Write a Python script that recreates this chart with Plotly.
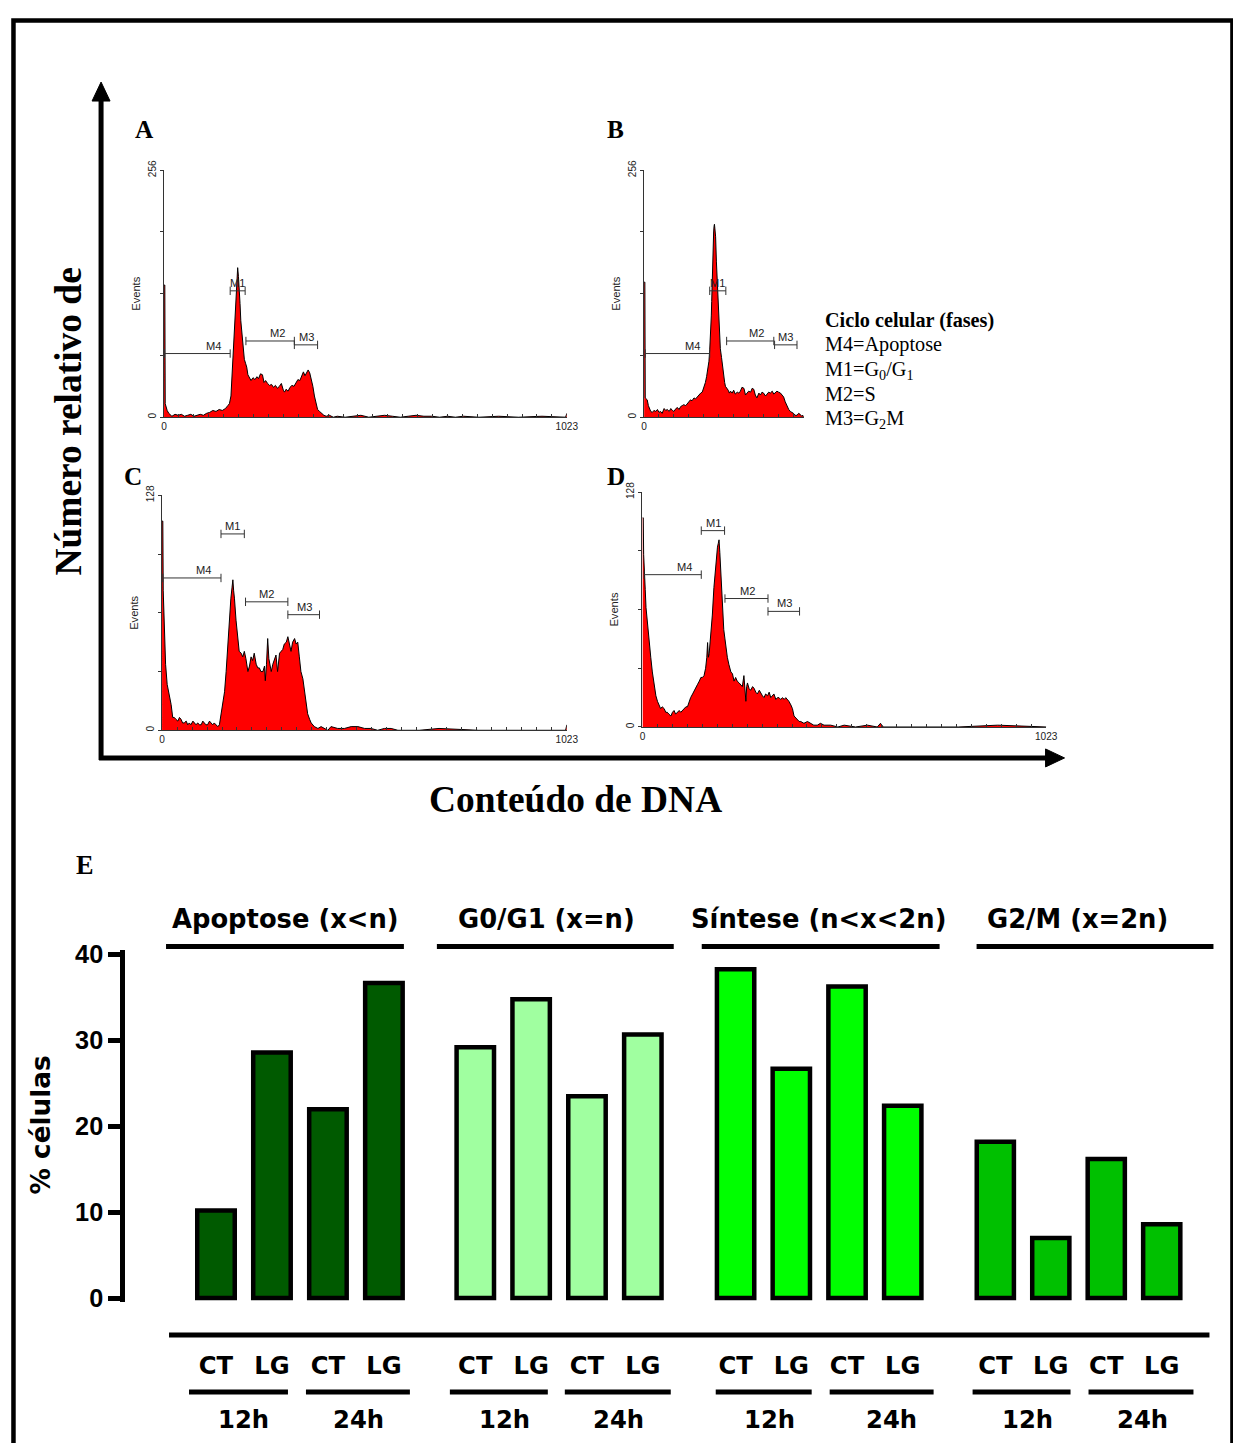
import plotly.graph_objects as go

# The photographed page is slightly scaled/offset; positions below are given in reference pixels
# and converted to figure paper coordinates.
S = 0.9885          # page -> picture scale
PX, PY = 10, 16     # page offset of the figure
W, H = 1246, 1444


def fx(p):
    return (p / S - PX) / W


def fy(p):
    return 1 - (p / S - PY) / H


def fs(size):
    return size / S


# ---------------- DATA: DNA content histograms (channel, events) ----------------
A_ch = [0, 2, 3, 5, 8, 12, 16, 20, 28, 36, 44, 52, 60, 68, 76, 84, 92, 100, 108, 116, 124, 132, 140, 148, 156, 162,
        166, 170, 173, 176, 179, 182, 184, 186, 187, 189, 191, 193, 195, 198, 201, 204, 207, 210, 213, 217, 221, 226,
        231, 236, 240, 245, 250, 254, 258, 263, 268, 273, 278, 283, 288, 293, 298, 303, 306, 310, 315, 320, 325, 330,
        335, 340, 345, 350, 354, 358, 362, 366, 370, 374, 378, 382, 386, 390, 395, 400, 406, 412, 420, 430, 440, 460,
        480, 500, 520, 540, 560, 580, 600, 620, 640, 660, 680, 700, 720, 740, 760, 800, 850, 900, 960, 1020, 1023]
A_ev = [137, 137, 14, 10, 7, 4, 2, 1, 3, 2, 3, 1, 2, 3, 1, 2, 3, 2, 4, 5, 7, 6, 8, 7, 9, 12, 14, 22, 45, 70, 100, 128,
        140, 150, 155, 146, 135, 118, 100, 86, 75, 60, 56, 52, 44, 40, 38, 41, 39, 42, 40, 45, 44, 36, 38, 35, 33, 34,
        31, 33, 30, 32, 35, 28, 26, 29, 27, 31, 33, 32, 36, 39, 38, 44, 47, 43, 46, 49, 46, 40, 32, 22, 13, 8, 6, 4, 2,
        1, 2, 0, 1, 0, 1, 2, 0, 1, 2, 1, 0, 1, 2, 1, 1, 0, 1, 0, 1, 0, 1, 0, 1, 0, 4]

B_ch = [0, 2, 3, 5, 8, 11, 14, 17, 21, 25, 30, 34, 38, 42, 46, 51, 55, 59, 64, 68, 72, 76, 81, 85, 89, 93, 97, 101, 106,
        110, 114, 118, 122, 127, 131, 135, 140, 144, 148, 152, 156, 159, 161, 163, 165, 167, 169, 171, 172, 174, 176,
        177, 178, 179, 180, 182, 184, 186, 187, 189, 190, 192, 194, 197, 199, 201, 203, 205, 207, 209, 211, 214, 217,
        220, 224, 228, 232, 237, 241, 245, 249, 254, 258, 262, 266, 271, 275, 279, 283, 287, 292, 296, 300, 304, 309,
        313, 317, 321, 326, 330, 334, 338, 342, 347, 351, 355, 359, 364, 368, 372, 376, 380, 384, 389, 393, 397, 401,
        404, 406]
B_ev = [140, 140, 20, 19, 18, 12, 9, 6, 5, 7, 6, 8, 5, 6, 4, 9, 7, 8, 6, 9, 7, 6, 9, 10, 8, 11, 12, 13, 12, 14, 16, 18,
        17, 20, 19, 21, 23, 25, 26, 30, 36, 42, 46, 52, 58, 70, 84, 105, 120, 161, 185, 192, 198, 200, 196, 187, 161,
        140, 127, 108, 96, 84, 71, 62, 54, 47, 40, 36, 32, 31, 30, 28, 25, 27, 25, 28, 24, 26, 25, 27, 31, 30, 23, 25,
        27, 26, 30, 29, 23, 20, 25, 23, 26, 25, 22, 24, 26, 25, 27, 24, 26, 27, 26, 25, 23, 21, 16, 11, 8, 6, 5, 4, 2,
        2, 4, 3, 1, 2, 0]

C_ch = [0, 2, 3, 6, 9, 13, 16, 19, 23, 27, 31, 35, 40, 44, 48, 52, 56, 61, 65, 69, 73, 78, 82, 86, 90, 95, 99, 103, 107,
        111, 115, 120, 124, 128, 132, 136, 141, 145, 149, 153, 158, 162, 166, 170, 174, 177, 179, 181, 183, 187, 191,
        195, 200, 204, 208, 212, 217, 221, 225, 229, 233, 238, 242, 246, 250, 255, 259, 261, 264, 267, 270, 276, 280,
        284, 288, 292, 297, 301, 305, 309, 314, 318, 322, 326, 330, 335, 339, 343, 347, 351, 356, 360, 364, 368, 373,
        377, 385, 394, 402, 410, 419, 427, 444, 461, 478, 495, 512, 528, 545, 562, 579, 596, 650, 700, 800, 900, 1020,
        1023]
C_ev = [114, 114, 76, 54, 36, 25, 22, 18, 14, 7, 7, 6, 5, 7, 6, 4, 4, 5, 3, 4, 3, 5, 4, 3, 4, 3, 3, 5, 4, 3, 3, 5, 4, 3,
        4, 3, 2, 3, 9, 14, 21, 32, 45, 63, 72, 78, 82, 76, 72, 60, 50, 43, 42, 40, 43, 39, 32, 35, 40, 38, 42, 36, 34,
        34, 32, 32, 35, 27, 36, 50, 39, 32, 36, 39, 41, 32, 42, 43, 44, 47, 48, 51, 47, 43, 48, 50, 47, 48, 40, 32, 28,
        21, 16, 9, 6, 4, 2, 1, 2, 1, 0, 2, 1, 1, 2, 2, 1, 1, 0, 1, 1, 0, 0, 1, 0, 0, 0, 3]

D_ch = [0, 2, 3, 4, 7, 9, 13, 17, 21, 25, 30, 34, 38, 42, 46, 50, 55, 59, 63, 67, 72, 76, 80, 84, 89, 93, 97, 101, 106,
        110, 114, 118, 122, 127, 131, 135, 139, 144, 148, 152, 156, 160, 163, 165, 167, 169, 173, 177, 181, 184, 186,
        188, 190, 192, 194, 196, 198, 201, 203, 206, 209, 211, 215, 219, 224, 228, 232, 236, 240, 245, 249, 253, 257,
        260, 262, 264, 266, 270, 274, 279, 283, 287, 291, 296, 300, 304, 308, 312, 317, 321, 325, 329, 333, 338, 342,
        346, 350, 355, 359, 363, 367, 371, 376, 380, 384, 388, 392, 397, 401, 409, 418, 426, 434, 443, 451, 460, 477,
        495, 511, 540, 570, 595, 603, 610, 700, 800, 900, 1023]
D_ev = [114, 114, 94, 85, 75, 65, 55, 45, 38, 30, 22, 17, 14, 12, 10, 11, 10, 8, 8, 7, 6, 8, 9, 7, 8, 9, 8, 9, 10, 11,
        11, 14, 16, 18, 20, 21, 23, 25, 27, 27, 28, 32, 38, 46, 38, 40, 49, 61, 76, 84, 89, 94, 98, 100, 102, 95, 85,
        72, 65, 53, 48, 44, 38, 34, 30, 29, 25, 27, 25, 24, 23, 22, 28, 21, 14, 22, 24, 21, 20, 22, 21, 19, 18, 20, 18,
        17, 16, 18, 17, 19, 16, 17, 18, 15, 16, 16, 15, 16, 15, 16, 15, 14, 12, 10, 6, 5, 4, 3, 3, 2, 3, 2, 1, 1, 2, 1,
        1, 0, 1, 0, 1, 0, 2, 0, 0, 0, 1, 0]

# Marker gates (M4, M1, M2, M3): start, end, level, label position
gate_names = ["M4", "M1", "M2", "M3"]
A_gate_start = [1, 168, 208, 331]
A_gate_end = [168, 206, 331, 390]
A_gate_level = [66, 131, 79, 75]
A_gate_label_x = [125, 187, 287, 363]
B_gate_start = [3, 167, 210, 332]
B_gate_end = [167, 208, 330, 389]
B_gate_level = [66, 131, 79, 75]
B_gate_label_x = [123, 188, 285, 361]
C_gate_start = [2, 149, 211, 318]
C_gate_end = [149, 208, 318, 398]
C_gate_level = [83, 107, 70, 63]
C_gate_label_x = [105, 179, 263, 360]
D_gate_start = [4, 149, 209, 318]
D_gate_end = [149, 208, 318, 398]
D_gate_level = [83, 107, 70, 63]
D_gate_label_x = [107, 179, 266, 359]

# ---------------- DATA: % cells bar chart ----------------
conditions = ["CT 12h", "LG 12h", "CT 24h", "LG 24h"]
condition_labels = ["CT", "LG", "CT", "LG"]
time_labels = ["12h", "24h"]
phase_titles = ["Apoptose (x&lt;n)", "G0/G1 (x=n)", "Síntese (n&lt;x&lt;2n)", "G2/M (x=2n)"]
apoptose = [10.2, 28.6, 22.0, 36.7]
g0_g1 = [29.2, 34.8, 23.5, 30.7]
sintese = [38.3, 26.7, 36.3, 22.4]
g2_m = [18.2, 7.0, 16.2, 8.6]
bar_yticks = [0, 10, 20, 30, 40]

# ---------------- STYLE ----------------
SERIF = "Liberation Serif"
SANS = "Liberation Sans"
WIDE = "DejaVu Sans"
phase_colors = ["#005a00", "#a0ffa0", "#00ff00", "#00c000"]

fig = go.Figure()
annotations = []
shapes = []
layout = {}


def note(x, y, text, size, family, xanchor="center", yanchor="middle", angle=0, color="black"):
    annotations.append(dict(x=fx(x), y=fy(y), xref="paper", yref="paper", text=text, showarrow=False,
                            xanchor=xanchor, yanchor=yanchor, textangle=angle,
                            font=dict(family=family, size=fs(size), color=color)))


def hline(x0, x1, y, width=5):
    shapes.append(dict(type="line", xref="paper", yref="paper", x0=fx(x0), x1=fx(x1), y0=fy(y), y1=fy(y),
                       line=dict(color="black", width=width)))


panels = [
    dict(key="A", ch=A_ch, ev=A_ev, ymax=256, xmax=1023, px0=163, px1=566, py0=168.3, py1=415.7,
         gs=A_gate_start, ge=A_gate_end, gl=A_gate_level, glx=A_gate_label_x, show_end=True),
    dict(key="B", ch=B_ch, ev=B_ev, ymax=256, xmax=406, px0=643.3, px1=803, py0=168.3, py1=415.7,
         gs=B_gate_start, ge=B_gate_end, gl=B_gate_level, glx=B_gate_label_x, show_end=False),
    dict(key="C", ch=C_ch, ev=C_ev, ymax=128, xmax=1023, px0=161, px1=566, py0=494, py1=729.3,
         gs=C_gate_start, ge=C_gate_end, gl=C_gate_level, glx=C_gate_label_x, show_end=True),
    dict(key="D", ch=D_ch, ev=D_ev, ymax=128, xmax=1023, px0=641.7, px1=1045.7, py0=490.7, py1=726,
         gs=D_gate_start, ge=D_gate_end, gl=D_gate_level, glx=D_gate_label_x, show_end=True),
]

hist_ticks = [i * 1023 / 27 for i in range(28)]

for i, p in enumerate(panels, start=1):
    xa = "x" if i == 1 else f"x{i}"
    ya = "y" if i == 1 else f"y{i}"
    fig.add_trace(go.Scatter(x=p["ch"], y=p["ev"], mode="lines", fill="tozeroy", fillcolor="#ff0000",
                             line=dict(color="black", width=1), xaxis=xa, yaxis=ya, hoverinfo="skip"))
    for k, name in enumerate(gate_names):
        fig.add_trace(go.Scatter(x=[p["gs"][k], p["ge"][k]], y=[p["gl"][k], p["gl"][k]], mode="lines+markers",
                                 line=dict(color="#333333", width=1),
                                 marker=dict(symbol="line-ns", size=6, line=dict(width=1, color="#333333")),
                                 xaxis=xa, yaxis=ya, cliponaxis=False, hoverinfo="skip"))
        annotations.append(dict(x=p["glx"][k], y=p["gl"][k], xref=xa, yref=ya, text=name, showarrow=False,
                                xanchor="center", yanchor="bottom", yshift=0,
                                font=dict(family=SANS, size=fs(11), color="#222")))
    tv = [t for t in hist_ticks if t <= p["xmax"] + 0.5]
    tt = [""] * len(tv)
    tt[0] = "0"
    if p["show_end"]:
        tt[-1] = "1023"
    yt = [p["ymax"] * j / 4 for j in range(5)]
    ytt = ["0", "", "", "", str(p["ymax"])]
    layout["xaxis" if i == 1 else f"xaxis{i}"] = dict(
        domain=[fx(p["px0"]), fx(p["px1"])], range=[0, p["xmax"]], anchor=ya,
        showline=True, linecolor="#333", linewidth=1, ticks="inside", ticklen=3, tickcolor="#333",
        tickvals=tv, ticktext=tt, tickfont=dict(family=SANS, size=fs(10), color="#222"),
        showgrid=False, zeroline=False)
    layout["yaxis" if i == 1 else f"yaxis{i}"] = dict(
        domain=[fy(p["py1"]), fy(p["py0"])], range=[0, p["ymax"]], anchor=xa,
        showline=True, linecolor="#333", linewidth=1, ticks="outside", ticklen=3, tickcolor="#333",
        tickvals=yt, ticktext=ytt, tickangle=-90, tickfont=dict(family=SANS, size=fs(10), color="#222"),
        title=dict(text="Events", font=dict(family=SANS, size=fs(11), color="#222"), standoff=4),
        showgrid=False, zeroline=False)

# Panel letters
for letter, (lx, ly) in zip(["A", "B", "C", "D"], [(143, 127), (615, 127), (132, 475), (615, 475)]):
    note(lx, ly, f"<b>{letter}</b>", 25, SERIF)

# Legend text
legend_lines = [("<b>Ciclo celular (fases)</b>", 319), ("M4=Apoptose", 343), ("M1=G<sub>0</sub>/G<sub>1</sub>", 369),
                ("M2=S", 392), ("M3=G<sub>2</sub>M", 418)]
for txt, ly in legend_lines:
    note(822, ly, txt, 20, SERIF, xanchor="left")

# Big axis titles
note(67, 420, "<b>Número relativo de</b>", 37, SERIF, angle=-90)
note(575, 799, "<b>Conteúdo de DNA</b>", 37, SERIF)

# Big arrows
shapes.append(dict(type="line", xref="paper", yref="paper", x0=fx(100), x1=fx(100), y0=fy(759), y1=fy(96),
                   line=dict(color="black", width=5)))
shapes.append(dict(type="path", xref="paper", yref="paper",
                   path=f"M {fx(100)},{fy(80)} L {fx(91)},{fy(99)} L {fx(109)},{fy(99)} Z",
                   fillcolor="black", line=dict(color="black", width=1)))
hline(98, 1048, 757)
shapes.append(dict(type="path", xref="paper", yref="paper",
                   path=f"M {fx(1064)},{fy(757)} L {fx(1045)},{fy(748)} L {fx(1045)},{fy(766)} Z",
                   fillcolor="black", line=dict(color="black", width=1)))

# Outer border (top edge as high as the page allows)
shapes.append(dict(type="rect", xref="paper", yref="paper", x0=2.5 / W, x1=fx(1232), y0=fy(1480),
                   y1=1 - 2.5 / H, line=dict(color="black", width=4.5)))

# ---------------- Bar chart E ----------------
note(84, 865, "<b>E</b>", 26, SERIF)

y0px, y40px = 1298, 954
ppu = (y0px - y40px) / 40.0
ylo, yhi = -0.5, 40.5
layout["yaxis5"] = dict(domain=[fy(y0px - ylo * ppu), fy(y0px - yhi * ppu)], range=[ylo, yhi], anchor="free",
                        position=fx(121), showline=True, linecolor="black", linewidth=4.5, ticks="outside",
                        ticklen=12, tickwidth=4.5, tickcolor="black", tickvals=bar_yticks,
                        ticktext=[f"<b>{v}</b>" for v in bar_yticks],
                        tickfont=dict(family=SANS, size=fs(25), color="black"), showgrid=False, zeroline=False)

group_domains = [(187, 411), (446.5, 670), (707, 930), (967, 1189)]
group_values = [apoptose, g0_g1, sintese, g2_m]
for gi, (dom, vals, col) in enumerate(zip(group_domains, group_values, phase_colors)):
    xa = f"x{5 + gi}"
    fig.add_trace(go.Bar(x=conditions, y=vals, xaxis=xa, yaxis="y5",
                         marker=dict(color=col, line=dict(color="black", width=4.5)), hoverinfo="skip"))
    layout[f"xaxis{5 + gi}"] = dict(domain=[fx(dom[0]), fx(dom[1])], anchor="y5", showline=False,
                                    ticks="outside", ticklen=42, tickcolor="rgba(0,0,0,0)",
                                    tickvals=conditions, ticktext=[f"<b>{c}</b>" for c in condition_labels],
                                    tickfont=dict(family=WIDE, size=fs(24), color="black"),
                                    showgrid=False, zeroline=False, categoryorder="array",
                                    categoryarray=conditions)

# Phase headings and their lines
heading_centers = [285, 546, 818, 1077]
heading_lines = [(165, 403), (436, 673), (701, 939), (976, 1213)]
for t, cx, (l0, l1) in zip(phase_titles, heading_centers, heading_lines):
    note(cx, 918, f"<b>{t}</b>", 25.5, WIDE)
    hline(l0, l1, 946)

# Bottom lines and time labels
hline(168, 1209, 1335)
pair_lines = [(188, 287), (305, 409), (449, 547), (564, 670), (715, 811), (829, 933), (972, 1070), (1088, 1193)]
time_centers = [243, 358, 504, 618, 769, 891, 1027, 1142]
for k, ((l0, l1), tc) in enumerate(zip(pair_lines, time_centers)):
    hline(l0, l1, 1392)
    note(tc, 1420, f"<b>{time_labels[k % 2]}</b>", 24, WIDE)

note(40, 1125, "<b>% células</b>", 26, WIDE, angle=-90)

fig.update_layout(width=W, height=H, margin=dict(l=0, r=0, t=0, b=0), paper_bgcolor="white",
                  plot_bgcolor="rgba(0,0,0,0)", showlegend=False, bargap=0.33,
                  annotations=annotations, shapes=shapes, **layout)

fig.write_html("out.html")
